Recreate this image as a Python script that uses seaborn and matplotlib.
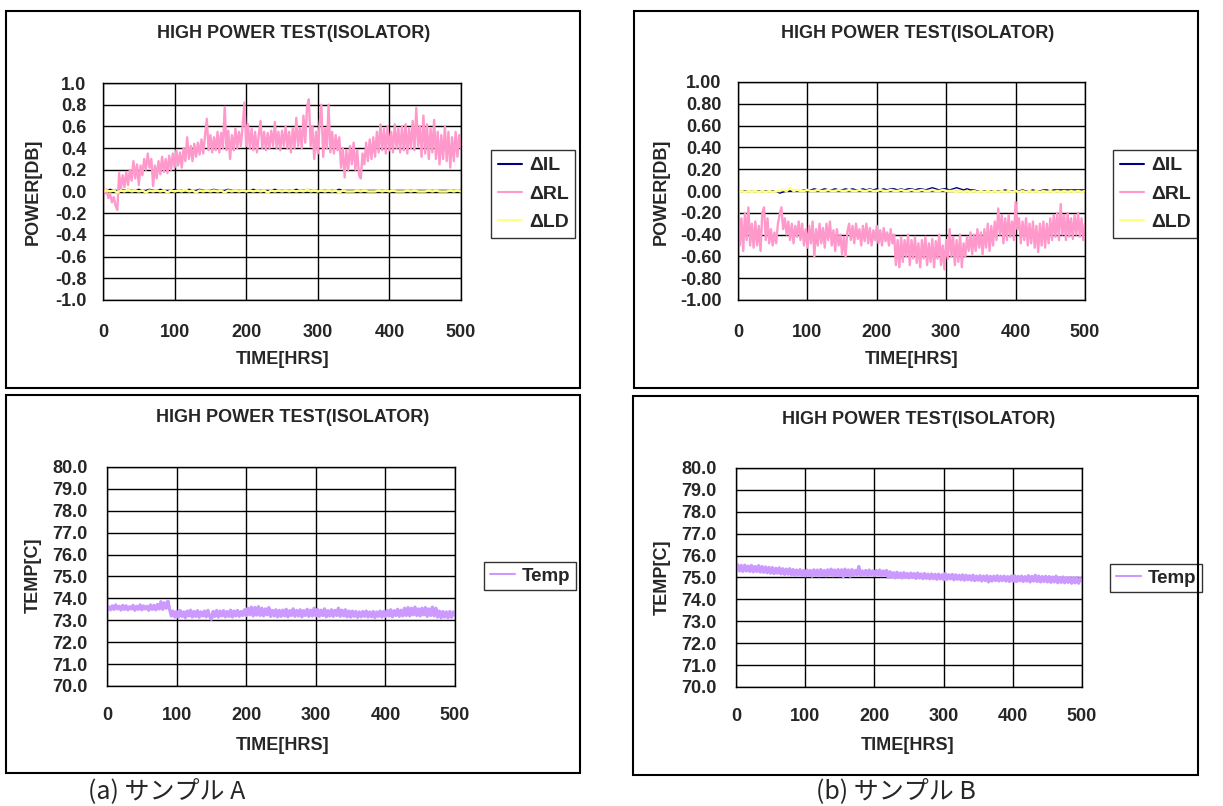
import numpy as np
import matplotlib
matplotlib.use("Agg")
import matplotlib.pyplot as plt
import matplotlib.patches as mpatches
import seaborn as sns

# ---------------- data ----------------
hours_fine = np.linspace(0, 500, 201)     # 2.5 h sampling
hours_coarse = np.linspace(0, 500, 101)   # 5 h sampling

rl_a = [0.05, -0.02, 0.02, -0.06, -0.03, -0.10, -0.05, -0.13, -0.17, 0.17, 0.02, 0.15, 0.04, 0.18, 0.06, 0.20, 0.10, 0.28, 0.12, 0.25,
        0.06, 0.24, 0.15, 0.30, 0.20, 0.35, 0.22, 0.30, 0.05, 0.24, 0.12, 0.28, 0.16, 0.32, 0.18, 0.30, 0.17, 0.33, 0.20, 0.35,
        0.22, 0.38, 0.24, 0.36, 0.22, 0.40, 0.28, 0.50, 0.30, 0.42, 0.28, 0.44, 0.32, 0.45, 0.34, 0.48, 0.35, 0.52, 0.67, 0.38,
        0.52, 0.36, 0.50, 0.38, 0.55, 0.36, 0.54, 0.40, 0.78, 0.38, 0.56, 0.30, 0.52, 0.38, 0.58, 0.40, 0.55, 0.42, 0.60, 0.82,
        0.42, 0.62, 0.40, 0.58, 0.38, 0.55, 0.36, 0.52, 0.65, 0.40, 0.55, 0.38, 0.54, 0.40, 0.56, 0.42, 0.64, 0.40, 0.55, 0.38,
        0.56, 0.42, 0.60, 0.40, 0.55, 0.36, 0.58, 0.40, 0.68, 0.42, 0.58, 0.40, 0.70, 0.45, 0.78, 0.85, 0.42, 0.60, 0.30, 0.55,
        0.35, 0.62, 0.80, 0.32, 0.58, 0.40, 0.80, 0.36, 0.55, 0.35, 0.52, 0.38, 0.50, 0.22, 0.40, 0.13, 0.38, 0.20, 0.42, 0.25,
        0.45, 0.20, 0.38, 0.15, 0.12, 0.35, 0.25, 0.45, 0.28, 0.48, 0.30, 0.50, 0.32, 0.55, 0.36, 0.62, 0.38, 0.58, 0.35, 0.60,
        0.38, 0.55, 0.36, 0.62, 0.40, 0.58, 0.36, 0.60, 0.38, 0.62, 0.35, 0.58, 0.40, 0.65, 0.38, 0.77, 0.42, 0.60, 0.32, 0.70,
        0.35, 0.62, 0.30, 0.58, 0.36, 0.66, 0.30, 0.55, 0.25, 0.52, 0.30, 0.60, 0.28, 0.55, 0.22, 0.50, 0.28, 0.55, 0.32, 0.52, 0.40]

rl_b = [0.00, -0.50, -0.25, -0.55, -0.20, -0.45, -0.15, -0.50, -0.30, -0.52, -0.28, -0.50, -0.32, -0.55, -0.20, -0.15, -0.45, -0.25, -0.48, -0.35,
        -0.50, -0.38, -0.48, -0.30, -0.22, -0.15, -0.35, -0.25, -0.40, -0.28, -0.45, -0.30, -0.48, -0.32, -0.42, -0.28, -0.45, -0.30, -0.50, -0.35,
        -0.52, -0.32, -0.48, -0.28, -0.60, -0.35, -0.50, -0.30, -0.48, -0.34, -0.52, -0.30, -0.45, -0.28, -0.50, -0.36, -0.55, -0.35, -0.50, -0.40,
        -0.58, -0.42, -0.60, -0.38, -0.30, -0.45, -0.32, -0.48, -0.30, -0.44, -0.35, -0.50, -0.32, -0.46, -0.30, -0.48, -0.34, -0.50, -0.36, -0.45,
        -0.32, -0.48, -0.36, -0.50, -0.34, -0.46, -0.38, -0.50, -0.35, -0.48, -0.40, -0.68, -0.45, -0.70, -0.42, -0.65, -0.45, -0.60, -0.40, -0.68,
        -0.45, -0.62, -0.42, -0.66, -0.48, -0.70, -0.45, -0.62, -0.42, -0.68, -0.48, -0.65, -0.44, -0.70, -0.46, -0.62, -0.40, -0.68, -0.50, -0.72,
        -0.45, -0.62, -0.35, -0.60, -0.42, -0.68, -0.45, -0.65, -0.40, -0.70, -0.48, -0.60, -0.42, -0.55, -0.38, -0.58, -0.40, -0.55, -0.35, -0.52,
        -0.38, -0.58, -0.35, -0.52, -0.30, -0.55, -0.32, -0.50, -0.28, -0.45, -0.16, -0.40, -0.22, -0.48, -0.25, -0.45, -0.22, -0.42, -0.28, -0.45,
        -0.10, -0.35, -0.25, -0.48, -0.28, -0.45, -0.25, -0.50, -0.30, -0.48, -0.28, -0.52, -0.32, -0.56, -0.30, -0.50, -0.28, -0.52, -0.30, -0.48,
        -0.25, -0.45, -0.22, -0.42, -0.20, -0.45, -0.12, -0.40, -0.22, -0.45, -0.20, -0.42, -0.25, -0.44, -0.22, -0.40, -0.20, -0.42, -0.25, -0.45, -0.30]

il_a = [0.00, 0.01, 0.02, 0.01, 0.01, 0.02, 0.01, 0.02, 0.01, 0.01,
        0.02, 0.01, 0.01, 0.02, 0.01, 0.01, 0.02, 0.01, 0.01, 0.01,
        0.02, 0.01, 0.01, 0.01, 0.02, 0.01, 0.01, 0.02, 0.01, 0.01,
        0.01, 0.02, 0.01, 0.01, 0.01, 0.02, 0.01, 0.01, 0.01, 0.01,
        0.01, 0.01, 0.02, 0.01, 0.01, 0.01, 0.01, 0.01, 0.02, 0.01,
        0.01, 0.01, 0.01, 0.01, 0.02, 0.01, 0.01, 0.02, 0.01, 0.01,
        0.01, 0.01, 0.01, 0.01, 0.01, 0.01, 0.02, 0.01, 0.01, 0.01,
        0.01, 0.01, 0.01, 0.01, 0.01, 0.01, 0.01, 0.01, 0.01, 0.01,
        0.01, 0.01, 0.01, 0.01, 0.01, 0.01, 0.01, 0.01, 0.01, 0.01,
        0.01, 0.01, 0.01, 0.01, 0.01, 0.01, 0.01, 0.01, 0.01, 0.01, 0.01]

ld_a = [0.00, 0.01, 0.00, 0.01, -0.01, 0.01, 0.00, 0.02, 0.00, 0.01,
        0.00, 0.01, -0.01, 0.01, 0.00, 0.01, 0.00, 0.01, -0.01, 0.01,
        0.00, 0.01, 0.00, 0.02, 0.00, 0.01, -0.01, 0.01, 0.00, 0.01,
        0.00, 0.01, 0.00, 0.01, -0.01, 0.01, 0.00, 0.01, 0.00, 0.01,
        0.00, 0.01, 0.00, 0.01, 0.00, 0.01, -0.01, 0.01, 0.00, 0.01,
        0.00, 0.01, 0.00, 0.01, 0.00, 0.01, 0.00, 0.02, 0.00, 0.01,
        0.00, 0.01, 0.00, 0.01, 0.00, 0.01, -0.01, 0.01, 0.00, 0.00,
        0.00, 0.01, 0.00, 0.01, 0.00, 0.00, 0.00, 0.01, 0.00, 0.01,
        0.00, 0.01, 0.00, 0.00, 0.00, 0.01, 0.00, 0.01, 0.00, 0.00,
        0.00, 0.01, 0.00, 0.01, 0.00, 0.00, 0.00, 0.01, 0.00, 0.01, 0.00]

il_b = [0.00, 0.00, 0.00, 0.00, -0.01, 0.00, 0.00, 0.00, 0.00, 0.00,
        0.00, 0.00, -0.02, -0.01, 0.00, 0.00, 0.00, 0.01, 0.00, 0.01,
        0.01, 0.01, 0.02, 0.01, 0.01, 0.02, 0.01, 0.01, 0.02, 0.01,
        0.01, 0.02, 0.01, 0.02, 0.01, 0.01, 0.02, 0.01, 0.02, 0.01,
        0.02, 0.01, 0.02, 0.01, 0.02, 0.02, 0.01, 0.02, 0.01, 0.02,
        0.02, 0.01, 0.02, 0.02, 0.01, 0.02, 0.03, 0.02, 0.01, 0.02,
        0.02, 0.01, 0.02, 0.03, 0.02, 0.01, 0.02, 0.01, 0.01, 0.00,
        0.00, 0.00, 0.00, 0.00, 0.00, 0.00, 0.00, 0.01, 0.00, 0.00,
        0.00, 0.00, 0.01, 0.00, 0.00, 0.01, 0.00, 0.00, 0.01, 0.01,
        0.00, 0.01, 0.01, 0.01, 0.01, 0.01, 0.01, 0.01, 0.01, 0.01, 0.01]

ld_b = [-0.01, 0.00, -0.01, 0.00, -0.01, 0.00, -0.01, 0.00, -0.01, 0.00,
        -0.01, 0.00, 0.00, 0.01, 0.00, 0.03, 0.00, 0.01, 0.00, 0.00,
        0.01, 0.00, 0.00, 0.01, 0.00, 0.00, 0.01, 0.00, 0.00, 0.01,
        0.00, 0.00, 0.01, 0.00, 0.00, 0.01, 0.00, 0.00, 0.01, 0.00,
        0.00, 0.01, 0.00, 0.00, 0.01, 0.00, 0.00, 0.01, 0.00, 0.00,
        0.01, 0.00, 0.00, 0.01, 0.00, 0.00, 0.01, 0.00, 0.00, 0.01,
        0.00, 0.00, 0.00, -0.01, 0.00, -0.01, 0.00, -0.01, 0.00, -0.01,
        0.00, -0.01, 0.00, -0.01, 0.00, -0.01, 0.00, -0.01, 0.00, -0.01,
        0.00, -0.01, 0.00, -0.01, 0.00, -0.01, 0.00, -0.01, 0.00, -0.01,
        0.00, -0.01, 0.00, -0.01, 0.00, -0.01, 0.00, -0.01, 0.00, -0.01, 0.00]

temp_a = [73.45, 73.62, 73.48, 73.66, 73.50, 73.70, 73.52, 73.64, 73.47, 73.68, 73.50, 73.66, 73.48, 73.62, 73.52, 73.68, 73.46, 73.64, 73.50, 73.70,
          73.48, 73.66, 73.52, 73.64, 73.46, 73.70, 73.50, 73.68, 73.48, 73.72, 73.52, 73.85, 73.50, 73.80, 73.55, 73.88, 73.50, 73.20, 73.42, 73.15,
          73.40, 73.15, 73.45, 73.18, 73.38, 73.12, 73.42, 73.20, 73.46, 73.15, 73.40, 73.18, 73.44, 73.14, 73.38, 73.20, 73.42, 73.16, 73.45, 73.18,
          73.05, 73.40, 73.18, 73.45, 73.15, 73.42, 73.20, 73.44, 73.16, 73.40, 73.18, 73.46, 73.15, 73.42, 73.20, 73.45, 73.18, 73.40, 73.22, 73.48,
          73.22, 73.55, 73.25, 73.60, 73.20, 73.58, 73.24, 73.62, 73.22, 73.55, 73.20, 73.52, 73.25, 73.58, 73.18, 73.45, 73.20, 73.48, 73.16, 73.45,
          73.18, 73.46, 73.20, 73.50, 73.16, 73.44, 73.22, 73.52, 73.18, 73.45, 73.20, 73.48, 73.16, 73.44, 73.22, 73.50, 73.18, 73.46, 73.20, 73.55,
          73.20, 73.50, 73.18, 73.46, 73.22, 73.52, 73.16, 73.44, 73.20, 73.48, 73.18, 73.45, 73.22, 73.55, 73.18, 73.46, 73.20, 73.48, 73.16, 73.42,
          73.15, 73.42, 73.18, 73.40, 73.14, 73.38, 73.16, 73.40, 73.18, 73.42, 73.15, 73.38, 73.16, 73.40, 73.12, 73.38, 73.18, 73.42, 73.15, 73.40,
          73.18, 73.45, 73.20, 73.48, 73.16, 73.44, 73.22, 73.50, 73.18, 73.46, 73.20, 73.55, 73.22, 73.58, 73.20, 73.55, 73.25, 73.60, 73.22, 73.52,
          73.20, 73.55, 73.25, 73.58, 73.18, 73.52, 73.22, 73.60, 73.20, 73.55, 73.15, 73.42, 73.12, 73.40, 73.15, 73.38, 73.12, 73.40, 73.14, 73.38, 73.25]

temp_b = [75.35, 75.58, 75.30, 75.55, 75.28, 75.56, 75.30, 75.52, 75.28, 75.55, 75.26, 75.50, 75.28, 75.54, 75.25, 75.50, 75.24, 75.48, 75.22, 75.46,
          75.20, 75.45, 75.18, 75.42, 75.20, 75.44, 75.16, 75.40, 75.14, 75.38, 75.15, 75.40, 75.12, 75.36, 75.10, 75.34, 75.12, 75.36, 75.10, 75.32,
          75.08, 75.34, 75.10, 75.32, 75.06, 75.35, 75.10, 75.34, 75.08, 75.36, 75.10, 75.32, 75.08, 75.35, 75.12, 75.38, 75.08, 75.34, 75.10, 75.36,
          75.08, 75.35, 75.04, 75.38, 75.10, 75.34, 75.06, 75.36, 75.10, 75.32, 75.12, 75.50, 75.10, 75.30, 75.12, 75.32, 75.10, 75.34, 75.12, 75.30,
          75.10, 75.32, 75.12, 75.34, 75.08, 75.30, 75.12, 75.32, 75.00, 75.26, 75.02, 75.22, 74.98, 75.24, 75.00, 75.20, 74.98, 75.22, 75.00, 75.18,
          74.98, 75.20, 75.00, 75.18, 74.96, 75.20, 74.98, 75.16, 74.95, 75.18, 74.96, 75.15, 74.94, 75.16, 74.95, 75.14, 74.92, 75.15, 74.94, 75.12,
          74.90, 75.18, 74.92, 75.12, 74.94, 75.14, 74.90, 75.12, 74.92, 75.10, 74.90, 75.12, 74.88, 75.10, 74.90, 75.08, 74.88, 75.10, 74.86, 75.06,
          74.88, 75.08, 74.84, 75.06, 74.86, 75.08, 74.80, 75.05, 74.84, 75.06, 74.86, 75.08, 74.84, 75.05, 74.86, 75.06, 74.84, 75.04, 74.82, 75.06,
          74.84, 75.08, 74.82, 75.05, 74.85, 75.06, 74.82, 75.04, 74.84, 75.08, 74.80, 75.05, 74.84, 75.10, 74.82, 75.06, 74.80, 75.04, 74.82, 75.05,
          74.80, 75.04, 74.78, 75.02, 74.80, 75.06, 74.76, 75.00, 74.78, 75.02, 74.76, 74.98, 74.78, 75.00, 74.74, 74.98, 74.76, 75.00, 74.74, 74.96, 74.85]

x_ticks = [0, 100, 200, 300, 400, 500]
power_ticks = [-1.0, -0.8, -0.6, -0.4, -0.2, 0.0, 0.2, 0.4, 0.6, 0.8, 1.0]
temp_ticks = [70.0, 71.0, 72.0, 73.0, 74.0, 75.0, 76.0, 77.0, 78.0, 79.0, 80.0]

title_text = "HIGH POWER TEST(ISOLATOR)"
captions = ["(a) サンプル A", "(b) サンプル B"]

# ---------------- style ----------------
sns.set_style("white")
plt.rcParams["font.family"] = ["Liberation Sans", "DejaVu Sans"]
plt.rcParams["font.weight"] = "bold"

W, H = 1223, 806
fig = plt.figure(figsize=(W / 100, H / 100), dpi=100)
fig.patch.set_facecolor("white")

C_IL = "#000080"
C_RL = "#FF99CC"
C_LD = "#FFFF80"
C_TEMP = "#CC99FF"


def fx(px):
    return px / W


def fy(py):
    return 1 - py / H


def add_axes(x0, y0, x1, y1):
    return fig.add_axes([fx(x0), fy(y1), (x1 - x0) / W, (y1 - y0) / H])


def border(x0, y0, x1, y1):
    fig.patches.append(mpatches.Rectangle((fx(x0), fy(y1)), (x1 - x0) / W, (y1 - y0) / H,
                                          transform=fig.transFigure, fill=False,
                                          edgecolor="black", linewidth=1.5))


def style_axes(ax, yticks, ylim, fmt, ypad, xpad):
    ax.set_xlim(0, 500)
    ax.set_ylim(*ylim)
    ax.set_xticks(x_ticks)
    ax.set_yticks(yticks)
    ax.set_yticklabels([fmt.format(v) for v in yticks])
    ax.grid(True, color="black", linewidth=1.0)
    ax.set_axisbelow(True)
    for s in ax.spines.values():
        s.set_color("black")
        s.set_linewidth(1.0)
    ax.tick_params(axis="both", length=0, labelsize=13)
    ax.tick_params(axis="y", pad=ypad)
    ax.tick_params(axis="x", pad=xpad)
    for lab in ax.get_xticklabels() + ax.get_yticklabels():
        lab.set_fontweight("bold")
    ax.set_xlabel("")
    ax.set_ylabel("")


def texts(title_xy, xlabel_xy, ylabel_xy, ylabel):
    fig.text(fx(title_xy[0]), fy(title_xy[1]), title_text, ha="center", va="center",
             fontsize=13, fontweight="bold")
    fig.text(fx(xlabel_xy[0]), fy(xlabel_xy[1]), "TIME[HRS]", ha="center", va="center",
             fontsize=13, fontweight="bold")
    fig.text(fx(ylabel_xy[0]), fy(ylabel_xy[1]), ylabel, ha="center", va="center",
             rotation=90, fontsize=13, fontweight="bold")


def power_panel(x0, y0, x1, y1, il, rl, ld, fmt, ypad, leg_xy):
    ax = add_axes(x0, y0, x1, y1)
    sns.lineplot(x=hours_coarse, y=il, ax=ax, color=C_IL, linewidth=1.0, label="ΔIL", estimator=None)
    sns.lineplot(x=hours_fine, y=rl, ax=ax, color=C_RL, linewidth=1.7, label="ΔRL", estimator=None)
    sns.lineplot(x=hours_coarse, y=ld, ax=ax, color=C_LD, linewidth=1.8, label="ΔLD", estimator=None)
    style_axes(ax, power_ticks, (-1.0, 1.0), fmt, ypad, 17)
    leg = ax.legend(loc="upper left", bbox_to_anchor=(fx(leg_xy[0]), fy(leg_xy[1])),
                    bbox_transform=fig.transFigure, frameon=True, fancybox=False,
                    borderaxespad=0, borderpad=0.35, labelspacing=0.55,
                    handlelength=1.25, handletextpad=0.35,
                    prop={"family": "Liberation Sans", "weight": "bold", "size": 14})
    leg.get_frame().set_edgecolor("black")
    leg.get_frame().set_linewidth(1.0)
    for line in leg.get_lines():
        line.set_linewidth(1.5)
    return ax


def temp_panel(x0, y0, x1, y1, temp, leg_xy):
    ax = add_axes(x0, y0, x1, y1)
    sns.lineplot(x=hours_fine, y=temp, ax=ax, color=C_TEMP, linewidth=2.4, label="Temp", estimator=None)
    style_axes(ax, temp_ticks, (70.0, 80.0), "{:.1f}", 14, 15)
    leg = ax.legend(loc="upper left", bbox_to_anchor=(fx(leg_xy[0]), fy(leg_xy[1])),
                    bbox_transform=fig.transFigure, frameon=True, fancybox=False,
                    borderaxespad=0, borderpad=0.3, labelspacing=0.3,
                    handlelength=1.35, handletextpad=0.35,
                    prop={"family": "Liberation Sans", "weight": "bold", "size": 13.5})
    leg.get_frame().set_edgecolor("black")
    leg.get_frame().set_linewidth(1.0)
    for line in leg.get_lines():
        line.set_linewidth(1.5)
    return ax


# ---- borders ----
border(6, 11, 580, 388)
border(634, 11, 1198, 388)
border(6, 395, 580, 773)
border(633, 396, 1198, 775)

# ---- top-left: sample A power ----
power_panel(103, 83, 461, 300, il_a, rl_a, ld_a, "{:.1f}", 12, (491, 150))
texts((294, 33), (283, 360), (33, 192), "POWER[DB]")

# ---- top-right: sample B power ----
power_panel(738, 82, 1085, 300, il_b, rl_b, ld_b, "{:.2f}", 12, (1113, 150))
texts((918, 33), (912, 360), (661, 192), "POWER[DB]")

# ---- bottom-left: sample A temp ----
temp_panel(107, 467, 455, 686, temp_a, (484, 562))
texts((293, 418), (283, 745), (33, 575), "TEMP[C]")

# ---- bottom-right: sample B temp ----
temp_panel(736, 468, 1082, 687, temp_b, (1110, 564))
texts((919, 419), (908, 746), (662, 577), "TEMP[C]")

# ---- captions ----
cap_font = ["Noto Sans CJK JP", "DejaVu Sans"]
fig.text(fx(88), fy(791), captions[0], ha="left", va="center", fontsize=18,
         family=cap_font, fontweight="normal")
fig.text(fx(816), fy(791), captions[1], ha="left", va="center", fontsize=18,
         family=cap_font, fontweight="normal")

fig.savefig("out.png", dpi=100, facecolor="white")
